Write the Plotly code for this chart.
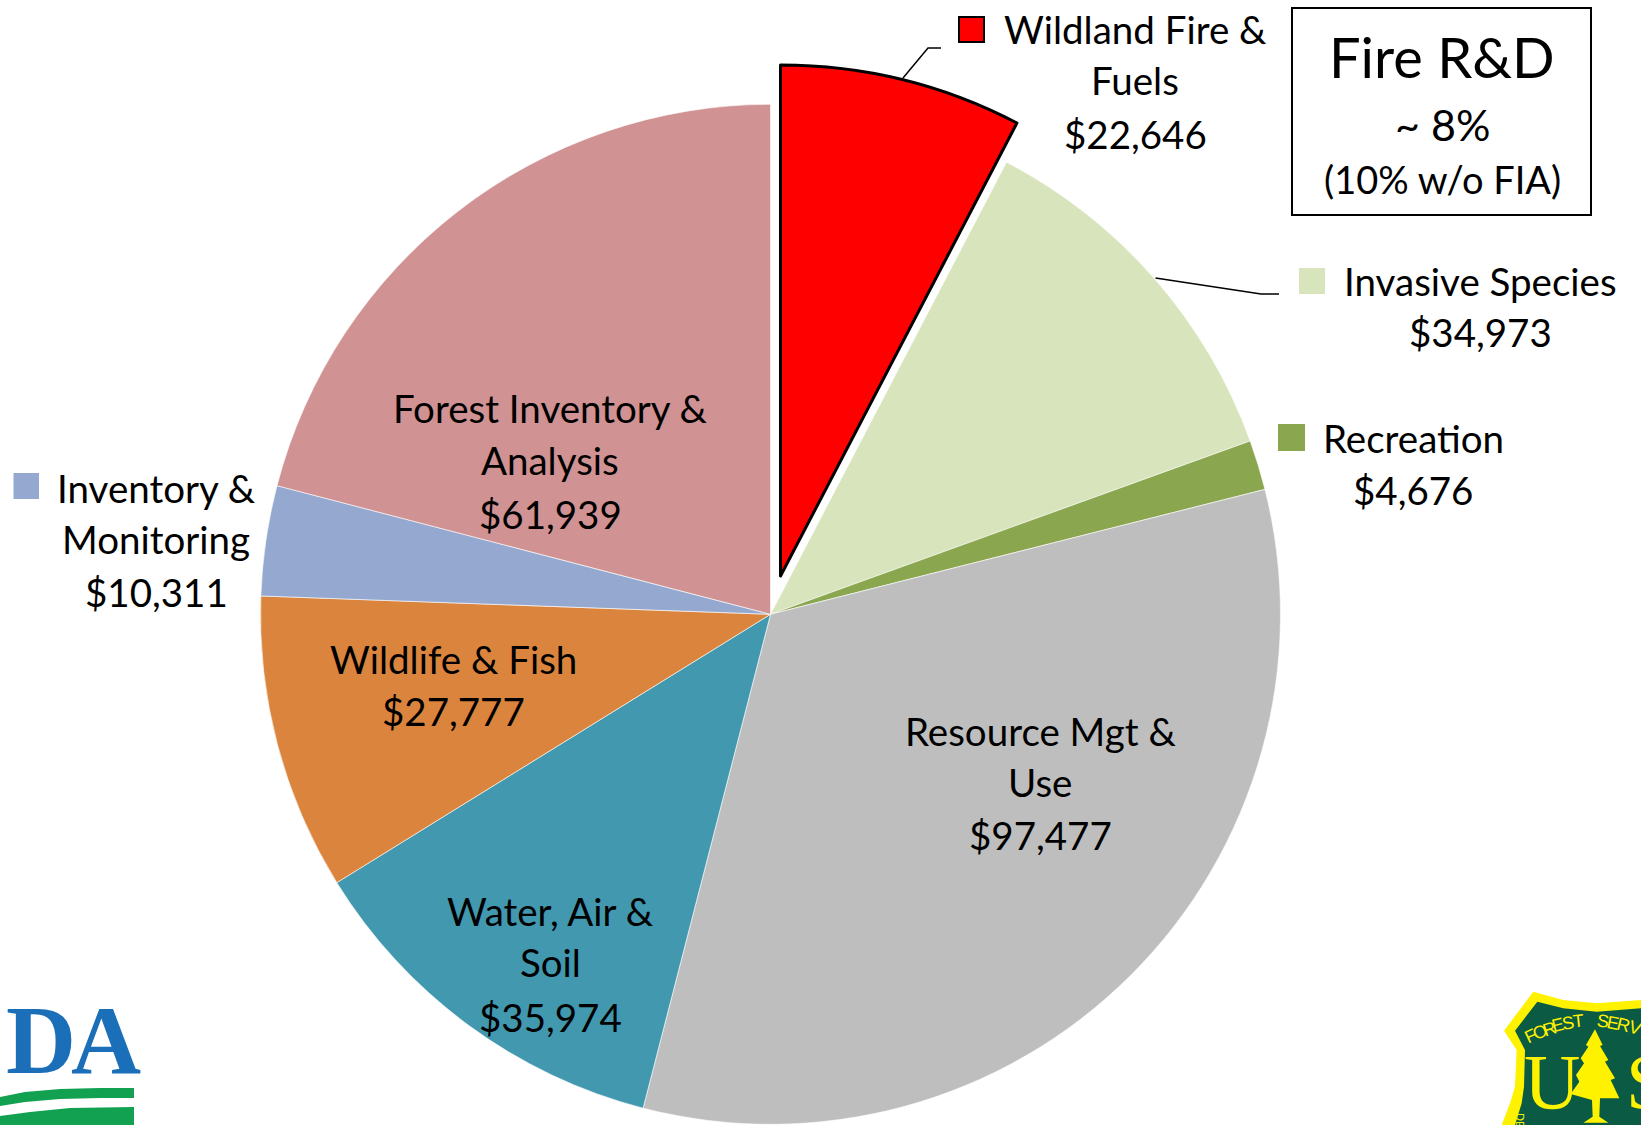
import plotly.graph_objects as go

W, H = 1641, 1125

categories = ["Wildland Fire & Fuels", "Invasive Species", "Recreation", "Resource Mgt & Use",
              "Water, Air & Soil", "Wildlife & Fish", "Inventory & Monitoring", "Forest Inventory & Analysis"]
values = [22646, 34973, 4676, 97477, 35974, 27777, 10311, 61939]
colors = ["#FF0000", "#D8E4BC", "#8AA64E", "#BEBEBE", "#4198AF", "#DB843D", "#95A9D0", "#D09292"]
dollar_labels = ["$22,646", "$34,973", "$4,676", "$97,477", "$35,974", "$27,777", "$10,311", "$61,939"]
label_lines = [["Wildland Fire &", "Fuels"], ["Invasive Species"], ["Recreation"], ["Resource Mgt &", "Use"],
               ["Water, Air &", "Soil"], ["Wildlife & Fish"], ["Inventory &", "Monitoring"],
               ["Forest Inventory &", "Analysis"]]
label_x = [1135, 1480, 1413, 1040, 550, 453, 156, 550]
label_y = [[29, 80, 134], [281, 332], [438, 490], [731, 782, 835], [911, 962, 1017], [659, 711],
           [488, 539, 592], [408, 460, 514]]
box_lines = ["Fire R&D", "~ 8%", "(10% w/o FIA)"]
box_sizes = [56, 43, 38]
box_y = [57, 124, 179]

FONT = "Lato, Carlito, Calibri, sans-serif"
FS = 38.5
px = lambda x: x / W
py = lambda y: 1 - y / H


def domain(cx, cy, r):
    return dict(x=[px(cx - r), px(cx + r)], y=[py(cy + r), py(cy - r)])


CLEAR = "rgba(0,0,0,0)"
fig = go.Figure()
# full pie, with the exploded slice left empty
fig.add_trace(go.Pie(
    labels=categories, values=values, sort=False, direction="clockwise", rotation=0,
    marker=dict(colors=[CLEAR] + colors[1:], line=dict(color=["rgba(0,0,0,0)"] + ["#FFFFFF"] * 7, width=0.6)),
    textinfo="none", showlegend=False, domain=domain(770.5, 614.3, 510), hoverinfo="label+value"))
# exploded slice, same data, moved away from the centre
fig.add_trace(go.Pie(
    labels=categories, values=values, sort=False, direction="clockwise", rotation=0,
    marker=dict(colors=[colors[0]] + [CLEAR] * 7,
                line=dict(color=["#000000"] + [CLEAR] * 7, width=[3] + [0] * 7)),
    textinfo="none", showlegend=False, domain=domain(780.5, 576, 511), hoverinfo="label+value"))

ann = []
shapes = []


def text(x, y, s, size=FS, color="#000000", family=FONT, xanchor="center", angle=0):
    ann.append(dict(x=px(x), y=py(y), xref="paper", yref="paper", text=s, showarrow=False,
                    xanchor=xanchor, yanchor="middle", textangle=angle,
                    font=dict(family=family, size=size, color=color)))


def path(points, fill=None, line=None, lw=1.5, close=True):
    d = "M " + " L ".join(f"{px(x):.5f},{py(y):.5f}" for x, y in points) + (" Z" if close else "")
    shapes.append(dict(type="path", xref="paper", yref="paper", path=d, fillcolor=fill or CLEAR,
                       line=dict(color=line or CLEAR, width=lw if line else 0)))


def rect(x0, y0, x1, y1, fill, line=None, lw=2):
    shapes.append(dict(type="rect", xref="paper", yref="paper", x0=px(x0), x1=px(x1), y0=py(y1), y1=py(y0),
                       fillcolor=fill, line=dict(color=line or CLEAR, width=lw if line else 0)))


for i, cat in enumerate(categories):
    lines = label_lines[i] + [dollar_labels[i]]
    for s, y in zip(lines, label_y[i]):
        text(label_x[i], y, s.replace("&", "&amp;"))

# legend keys next to the outside labels
rect(959, 17, 984, 42, colors[0], "#000000", 2)
rect(1299, 268, 1325, 294, colors[1])
rect(1278, 424, 1305, 451, colors[2])
rect(13.5, 473, 39, 499, colors[6])

# leader lines
path([(903, 78), (928, 48), (941, 48)], line="#000000", lw=1.5, close=False)
path([(1155.5, 278), (1261, 294), (1279, 294)], line="#000000", lw=1.5, close=False)

# note box
rect(1292, 8, 1591, 215, "rgba(0,0,0,0)", "#000000", 2)
for s, y, sz in zip(box_lines, box_y, box_sizes):
    text(1442, y, s.replace("&", "&amp;"), size=sz)

# USDA logo, cut off by the page edge
text(4, 1040, "<b>D</b>", size=97, color="#1B6FB9", family="Liberation Serif", xanchor="left")
text(69, 1040, "<b>A</b>", size=97, color="#1B6FB9", family="Liberation Serif", xanchor="left")
path([(0, 1106), (25, 1102), (60, 1099), (100, 1098), (134, 1098), (134, 1088), (100, 1088), (60, 1089), (25, 1092), (0, 1097)],
     fill="#12A150")
path([(0, 1125), (0, 1116), (30, 1112), (70, 1108), (134, 1107), (134, 1125)], fill="#12A150")

# Forest Service shield, cut off by the page edge
zx = lambda v: 1480 + v / 3
zy = lambda v: 970 + v / 3
outer = [(160, 65), (250, 90), (350, 100), (483, 90), (483, 465), (65, 465), (90, 400), (105, 350), (110, 240), (72, 182)]
inner = [(172, 95), (250, 115), (350, 125), (483, 115), (483, 465), (105, 465), (125, 400), (132, 350), (135, 240), (105, 182)]
path([(zx(a), zy(b)) for a, b in outer], fill="#FFF200")
path([(zx(a), zy(b)) for a, b in inner], fill="#0B5A43")
tree = [(345, 178), (368, 225), (360, 228), (385, 270), (375, 275), (405, 325), (392, 330), (418, 385), (360, 385), (358, 440),
        (385, 458), (310, 458), (338, 440), (336, 390), (272, 372), (298, 335), (288, 315), (312, 280), (302, 265), (325, 230), (318, 225)]
path([(zx(a), zy(b)) for a, b in tree], fill="#FFF200")
forest = "FOREST"
serv = "SERV"
fx = [152, 181, 208, 235, 263, 294]
fy = [197, 186, 176, 166, 158, 154]
fa = [-25, -22, -18, -14, -10, -6]
sx = [368, 398, 431, 466]
sy = [153, 158, 166, 175]
sa = [8, 11, 14, 18]
for c, a, b, r in list(zip(forest, fx, fy, fa)) + list(zip(serv, sx, sy, sa)):
    text(zx(a), zy(b), c, size=18, color="#FFF200", family="Liberation Sans", angle=r)
text(zx(217), zy(335), "U", size=78, color="#FFF200", family="Liberation Sans Narrow")
text(zx(432), zy(335), "S", size=78, color="#FFF200", family="Liberation Sans Narrow", xanchor="left")
text(zx(122), zy(452), "DE", size=11, color="#FFF200", family="Liberation Sans", angle=90)

fig.update_layout(width=W, height=H, margin=dict(l=0, r=0, t=0, b=0), paper_bgcolor="#FFFFFF",
                  plot_bgcolor="#FFFFFF", showlegend=False, annotations=ann, shapes=shapes)
fig.write_html("out.html", config=dict(displayModeBar=False), post_script="document.body.style.margin='0';")
